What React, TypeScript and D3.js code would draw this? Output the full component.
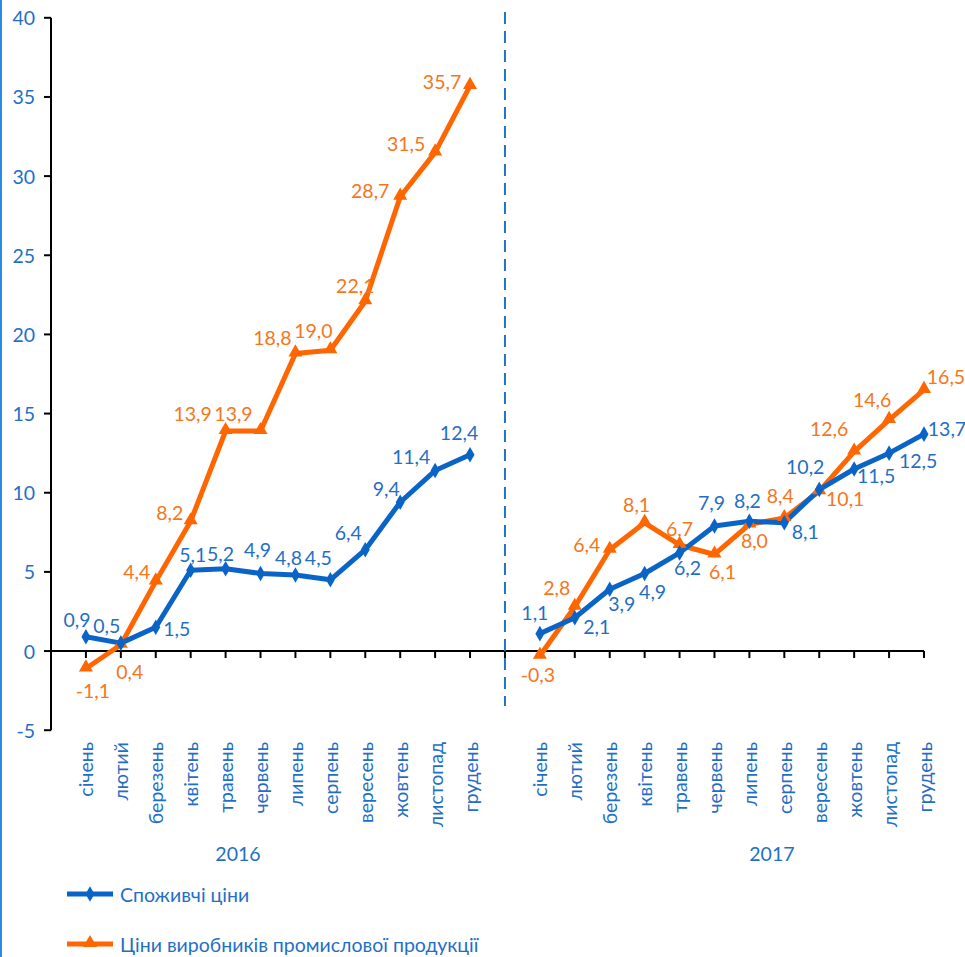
import React from "react";
import * as d3 from "d3";

const months = ["січень","лютий","березень","квітень","травень","червень","липень","серпень","вересень","жовтень","листопад","грудень"];
const years = ["2016", "2017"];
const consumer2016 = [0.9,0.5,1.5,5.1,5.2,4.9,4.8,4.5,6.4,9.4,11.4,12.4];
const producer2016 = [-1.1,0.4,4.4,8.2,13.9,13.9,18.8,19.0,22.1,28.7,31.5,35.7];
const consumer2017 = [1.1,2.1,3.9,4.9,6.2,7.9,8.2,8.1,10.2,11.5,12.5,13.7];
const producer2017 = [-0.3,2.8,6.4,8.1,6.7,6.1,8.0,8.4,10.1,12.6,14.6,16.5];
const yTicks = [-5,0,5,10,15,20,25,30,35,40];
const seriesNames = ["Споживчі ціни", "Ціни виробників промислової продукції"];

// label offsets (layout only)
const consumerLabelOff: [number, number][] = [
  [-9,-17],[-14,-18],[21,1],[2,-16],[-5,-15],[-3,-24],[-7,-18],[-12,-22],[-17,-17],[-14,-14],[-24,-14],[-11,-22],
  [-5,-21],[22,9],[12,14],[8,18],[8,15],[-3,-23],[-2,-21],[21,9],[-14,-23],[22,7],[29,7],[23,-6],
];
const producerLabelOff: [number, number][] = [
  [7,22],[9,27],[-19,-10],[-21,-9],[-33,-17],[-27,-17],[-23,-16],[-17,-20],[-10,-16],[-30,-6],[-29,-9],[-28,-4],
  [-2,19],[-18,-19],[-23,-5],[-8,-18],[0,-16],[8,17],[5,16],[-4,-23],[26,7],[-25,-23],[-17,-20],[22,-13],
];

const BLUE = "#0a64c8";
const BLUE_TXT = "#1f6fc6";
const ORANGE = "#ff6600";
const ORANGE_TXT = "#f5761c";
const FONT = "Lato, 'Open Sans', sans-serif";
const FS = 19.5;

export default function App() {
  const W = 965, H = 957;
  const x0 = 51, x1 = 924;
  const nSlots = 25;
  const x = d3.scaleLinear().domain([-1, nSlots - 1]).range([x0, x1]);
  const y = d3.scaleLinear().domain([-5, 40]).range([730.2, 17.8]);

  const idx2016 = months.map((_, i) => i);
  const idx2017 = months.map((_, i) => i + 13);
  const consumer = [...consumer2016.map((v, i) => ({ i: idx2016[i], v })), ...consumer2017.map((v, i) => ({ i: idx2017[i], v }))];
  const producer = [...producer2016.map((v, i) => ({ i: idx2016[i], v })), ...producer2017.map((v, i) => ({ i: idx2017[i], v }))];

  const line = d3.line<{ i: number; v: number }>().x(d => x(d.i)).y(d => y(d.v));
  const fmt = (v: number) => v.toFixed(1).replace(".", ",");
  const diamond = d3.symbol().type(d3.symbolDiamond).size(70)()!;
  const triangle = d3.symbol().type(d3.symbolTriangle).size(85)()!;

  const allSlots = d3.range(0, nSlots);
  const gapX = x(12);

  const renderSeries = (data: { i: number; v: number }[], color: string) => (
    <g>
      <path d={line(data.slice(0, 12)) || ""} fill="none" stroke={color} strokeWidth={5} strokeLinejoin="round" />
      <path d={line(data.slice(12)) || ""} fill="none" stroke={color} strokeWidth={5} strokeLinejoin="round" />
    </g>
  );

  return (
    <svg width={W} height={H} style={{ position: "absolute", left: 0, top: 0, background: "#fff" }} fontFamily={FONT}>
      <rect x={0} y={0} width={W} height={H} fill="#fff" />
      <line x1={1} y1={0} x2={1} y2={H} stroke="#2a8ce0" strokeWidth={2} />

      {/* y axis */}
      <line x1={x0} y1={y(40)} x2={x0} y2={y(-5)} stroke="#000" strokeWidth={2} />
      {yTicks.map(t => (
        <g key={t}>
          <line x1={x0 - 7} x2={x0} y1={y(t)} y2={y(t)} stroke="#000" strokeWidth={2} />
          <text x={35} y={y(t)} textAnchor="end" dominantBaseline="central" fontSize={FS} fill={BLUE_TXT}>{t}</text>
        </g>
      ))}

      {/* x axis */}
      <line x1={x0} y1={y(0)} x2={x1} y2={y(0)} stroke="#000" strokeWidth={2} />
      {allSlots.map(i => (
        <line key={i} x1={x(i)} x2={x(i)} y1={y(0)} y2={y(0) + 7} stroke="#000" strokeWidth={2} />
      ))}

      {/* dashed separator */}
      <line x1={gapX} x2={gapX} y1={12} y2={706} stroke="#1f74c4" strokeWidth={2} strokeDasharray="12,7" />

      {/* month labels */}
      {[...idx2016, ...idx2017].map((i, k) => (
        <text key={k} transform={`translate(${x(i)},742) rotate(-90)`} textAnchor="end" dominantBaseline="central" fontSize={FS} fill={BLUE_TXT}>
          {months[k % 12]}
        </text>
      ))}
      <text x={(x(0) + x(11)) / 2 - 40} y={853} textAnchor="middle" dominantBaseline="central" fontSize={FS} fill={BLUE_TXT}>{years[0]}</text>
      <text x={(x(13) + x(24)) / 2 + 40} y={853} textAnchor="middle" dominantBaseline="central" fontSize={FS} fill={BLUE_TXT}>{years[1]}</text>

      {/* series */}
      {renderSeries(producer, ORANGE)}
      {renderSeries(consumer, BLUE)}
      {producer.map((d, k) => (
        <path key={"pm" + k} d={triangle} transform={`translate(${x(d.i)},${y(d.v) - 1})`} fill={ORANGE} />
      ))}
      {consumer.map((d, k) => (
        <path key={"cm" + k} d={diamond} transform={`translate(${x(d.i)},${y(d.v)})`} fill={BLUE} />
      ))}

      {/* labels */}
      {consumer.map((d, k) => (
        <text key={"cl" + k} x={x(d.i) + consumerLabelOff[k][0]} y={y(d.v) + consumerLabelOff[k][1]} textAnchor="middle" dominantBaseline="central" fontSize={FS} fill={BLUE_TXT}>{fmt(d.v)}</text>
      ))}
      {producer.map((d, k) => (
        <text key={"pl" + k} x={x(d.i) + producerLabelOff[k][0]} y={y(d.v) + producerLabelOff[k][1]} textAnchor="middle" dominantBaseline="central" fontSize={FS} fill={ORANGE_TXT}>{fmt(d.v)}</text>
      ))}

      {/* legend */}
      <line x1={67} x2={113} y1={894} y2={894} stroke={BLUE} strokeWidth={5} />
      <path d={diamond} transform="translate(90,894)" fill={BLUE} />
      <text x={120} y={894} dominantBaseline="central" fontSize={FS} fill={BLUE_TXT}>{seriesNames[0]}</text>
      <line x1={67} x2={113} y1={944} y2={944} stroke={ORANGE} strokeWidth={5} />
      <path d={triangle} transform="translate(90,943)" fill={ORANGE} />
      <text x={120} y={944} dominantBaseline="central" fontSize={FS} fill={BLUE_TXT}>{seriesNames[1]}</text>
    </svg>
  );
}
